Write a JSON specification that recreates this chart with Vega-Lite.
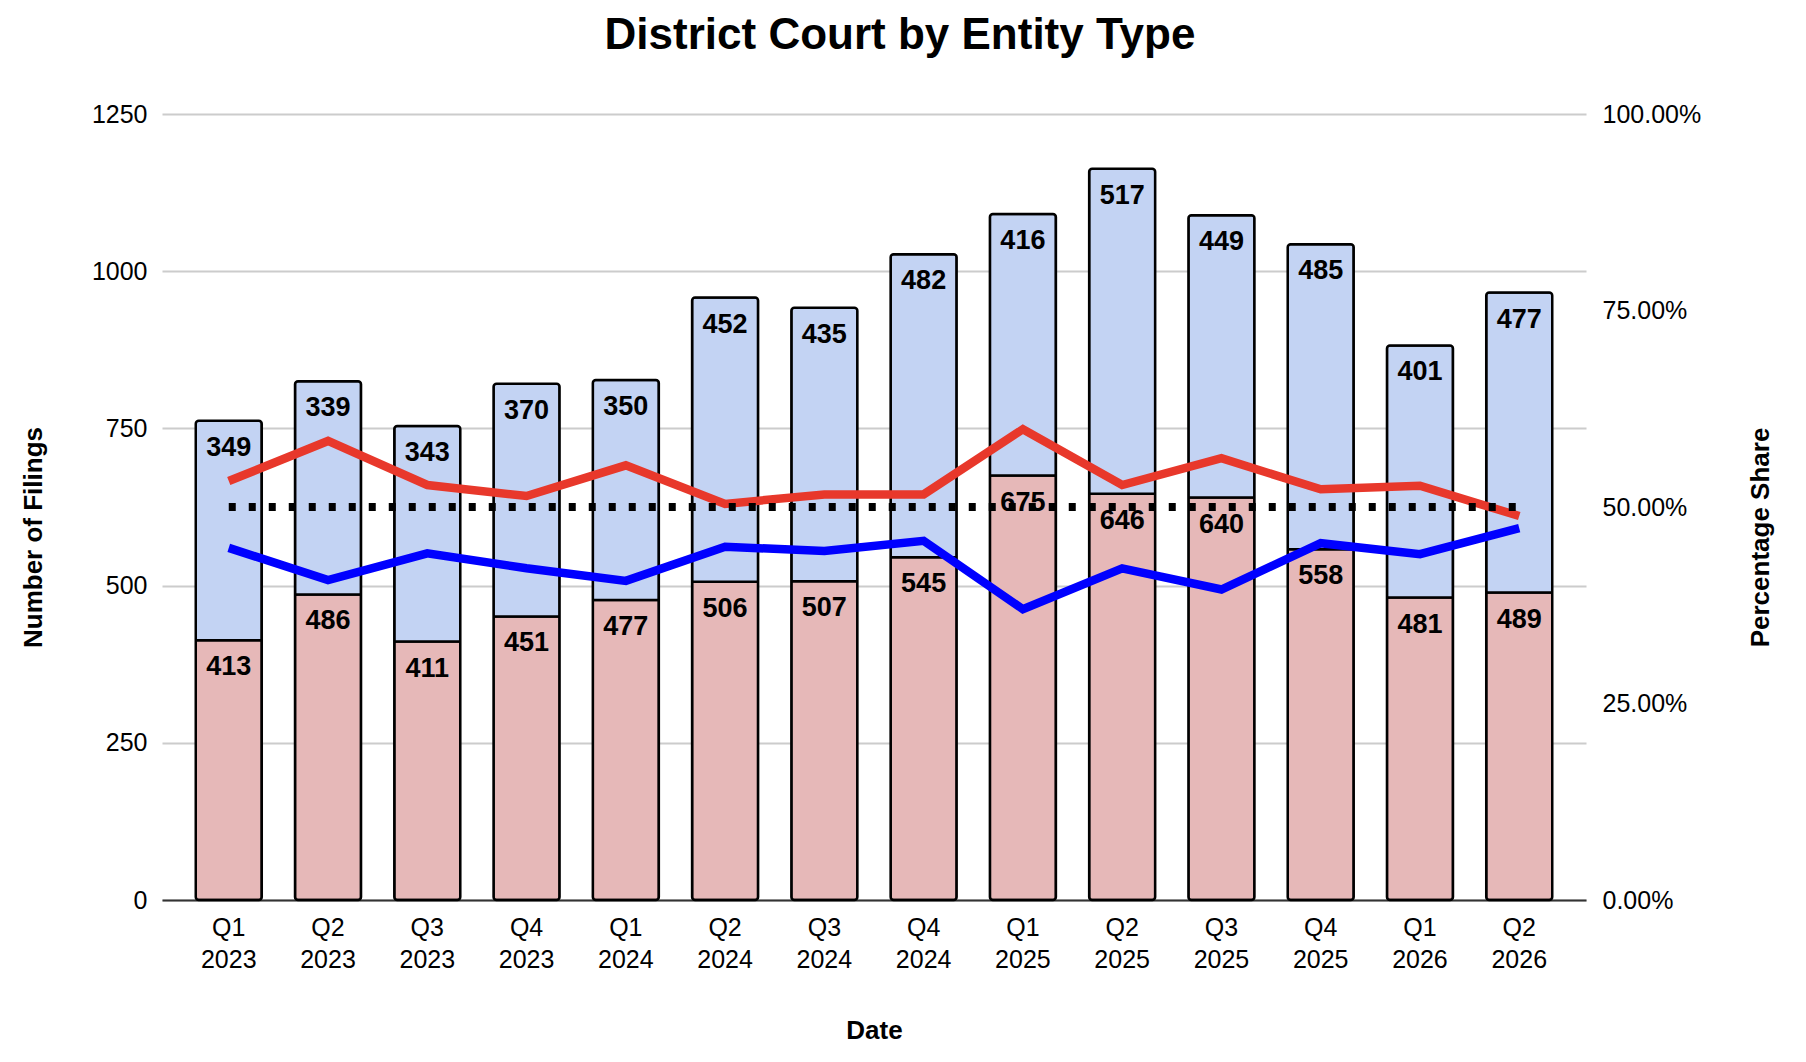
{
  "$schema": "https://vega.github.io/schema/vega-lite/v6.json",
  "width": 1424,
  "height": 786,
  "autosize": {"type": "none"},
  "padding": {"left": 162, "top": 114, "right": 220, "bottom": 162},
  "background": "white",
  "title": {"text": "District Court by Entity Type", "font": "Liberation Sans", "fontSize": 44, "fontWeight": "bold", "color": "#000", "anchor": "middle", "offset": 44, "dx": 26},
  "datasets": {
    "bars": [
      {"date": "Q1 2023", "type": "A", "count": 413}, {"date": "Q1 2023", "type": "B", "count": 349},
      {"date": "Q2 2023", "type": "A", "count": 486}, {"date": "Q2 2023", "type": "B", "count": 339},
      {"date": "Q3 2023", "type": "A", "count": 411}, {"date": "Q3 2023", "type": "B", "count": 343},
      {"date": "Q4 2023", "type": "A", "count": 451}, {"date": "Q4 2023", "type": "B", "count": 370},
      {"date": "Q1 2024", "type": "A", "count": 477}, {"date": "Q1 2024", "type": "B", "count": 350},
      {"date": "Q2 2024", "type": "A", "count": 506}, {"date": "Q2 2024", "type": "B", "count": 452},
      {"date": "Q3 2024", "type": "A", "count": 507}, {"date": "Q3 2024", "type": "B", "count": 435},
      {"date": "Q4 2024", "type": "A", "count": 545}, {"date": "Q4 2024", "type": "B", "count": 482},
      {"date": "Q1 2025", "type": "A", "count": 675}, {"date": "Q1 2025", "type": "B", "count": 416},
      {"date": "Q2 2025", "type": "A", "count": 646}, {"date": "Q2 2025", "type": "B", "count": 517},
      {"date": "Q3 2025", "type": "A", "count": 640}, {"date": "Q3 2025", "type": "B", "count": 449},
      {"date": "Q4 2025", "type": "A", "count": 558}, {"date": "Q4 2025", "type": "B", "count": 485},
      {"date": "Q1 2026", "type": "A", "count": 481}, {"date": "Q1 2026", "type": "B", "count": 401},
      {"date": "Q2 2026", "type": "A", "count": 489}, {"date": "Q2 2026", "type": "B", "count": 477}
    ],
    "shares": [
      {"date": "Q1 2023", "series": "A", "share": 0.533}, {"date": "Q1 2023", "series": "B", "share": 0.448}, {"date": "Q1 2023", "series": "Parity", "share": 0.5},
      {"date": "Q2 2023", "series": "A", "share": 0.584}, {"date": "Q2 2023", "series": "B", "share": 0.407}, {"date": "Q2 2023", "series": "Parity", "share": 0.5},
      {"date": "Q3 2023", "series": "A", "share": 0.528}, {"date": "Q3 2023", "series": "B", "share": 0.441}, {"date": "Q3 2023", "series": "Parity", "share": 0.5},
      {"date": "Q4 2023", "series": "A", "share": 0.514}, {"date": "Q4 2023", "series": "B", "share": 0.422}, {"date": "Q4 2023", "series": "Parity", "share": 0.5},
      {"date": "Q1 2024", "series": "A", "share": 0.553}, {"date": "Q1 2024", "series": "B", "share": 0.406}, {"date": "Q1 2024", "series": "Parity", "share": 0.5},
      {"date": "Q2 2024", "series": "A", "share": 0.504}, {"date": "Q2 2024", "series": "B", "share": 0.4495}, {"date": "Q2 2024", "series": "Parity", "share": 0.5},
      {"date": "Q3 2024", "series": "A", "share": 0.516}, {"date": "Q3 2024", "series": "B", "share": 0.444}, {"date": "Q3 2024", "series": "Parity", "share": 0.5},
      {"date": "Q4 2024", "series": "A", "share": 0.516}, {"date": "Q4 2024", "series": "B", "share": 0.457}, {"date": "Q4 2024", "series": "Parity", "share": 0.5},
      {"date": "Q1 2025", "series": "A", "share": 0.599}, {"date": "Q1 2025", "series": "B", "share": 0.370}, {"date": "Q1 2025", "series": "Parity", "share": 0.5},
      {"date": "Q2 2025", "series": "A", "share": 0.528}, {"date": "Q2 2025", "series": "B", "share": 0.422}, {"date": "Q2 2025", "series": "Parity", "share": 0.5},
      {"date": "Q3 2025", "series": "A", "share": 0.562}, {"date": "Q3 2025", "series": "B", "share": 0.395}, {"date": "Q3 2025", "series": "Parity", "share": 0.5},
      {"date": "Q4 2025", "series": "A", "share": 0.5225}, {"date": "Q4 2025", "series": "B", "share": 0.454}, {"date": "Q4 2025", "series": "Parity", "share": 0.5},
      {"date": "Q1 2026", "series": "A", "share": 0.527}, {"date": "Q1 2026", "series": "B", "share": 0.440}, {"date": "Q1 2026", "series": "Parity", "share": 0.5},
      {"date": "Q2 2026", "series": "A", "share": 0.4885}, {"date": "Q2 2026", "series": "B", "share": 0.473}, {"date": "Q2 2026", "series": "Parity", "share": 0.5}
    ]
  },
  "layer": [
    {
      "data": {"name": "bars"},
      "layer": [
        {
          "mark": {"type": "bar", "stroke": "#000", "strokeWidth": 2.5, "cornerRadius": 3},
          "encoding": {
            "x": {"field": "date", "type": "nominal", "sort": null,
              "scale": {"paddingInner": 0.335, "paddingOuter": 0.34},
              "axis": {"title": "Date", "labelAngle": 0, "labelExpr": "split(datum.label, ' ')", "labelBaseline": "top", "labelPadding": 15, "labelLineHeight": 32, "domain": true, "domainColor": "#333", "domainWidth": 2, "grid": false, "titleBaseline": "alphabetic", "titleY": 138}},
            "y": {"field": "count", "type": "quantitative", "stack": "zero",
              "scale": {"domain": [0, 1250], "nice": false},
              "axis": {"title": "Number of Filings", "format": "d", "values": [0, 250, 500, 750, 1000, 1250], "grid": true, "gridColor": "#cccccc", "gridWidth": 2, "labelPadding": 15, "titleAngle": -90, "titleX": -129, "titleY": 423, "titleBaseline": "middle", "titleAlign": "center"}},
            "color": {"field": "type", "type": "nominal", "scale": {"domain": ["A", "B"], "range": ["#e6b8b8", "#c3d3f3"]}, "legend": null},
            "order": {"field": "type", "sort": "ascending"}
          }
        },
        {
          "mark": {"type": "text", "font": "Liberation Sans", "fontSize": 27, "fontWeight": "bold", "color": "#000", "baseline": "middle", "dy": 27},
          "encoding": {
            "x": {"field": "date", "type": "nominal", "sort": null},
            "y": {"field": "count", "type": "quantitative", "stack": "zero"},
            "text": {"field": "count", "type": "quantitative"},
            "order": {"field": "type", "sort": "ascending"}
          }
        }
      ]
    },
    {
      "data": {"name": "shares"},
      "layer": [
        {
          "transform": [{"filter": "datum.series !== 'Parity'"}],
          "mark": {"type": "line", "strokeWidth": 8.5},
          "encoding": {
            "x": {"field": "date", "type": "nominal", "sort": null},
            "y": {"field": "share", "type": "quantitative",
              "scale": {"domain": [0, 1], "nice": false},
              "axis": {"orient": "right", "title": "Percentage Share", "format": ".2%", "values": [0, 0.25, 0.5, 0.75, 1], "grid": false, "labelPadding": 16, "titleAngle": -90, "titleX": 174, "titleY": 423, "titleBaseline": "middle", "titleAlign": "center"}},
            "color": {"field": "series", "type": "nominal", "scale": {"domain": ["A", "B"], "range": ["#e8382b", "#0000ff"]}, "legend": null}
          }
        },
        {
          "transform": [{"filter": "datum.series === 'Parity'"}],
          "mark": {"type": "line", "color": "#000", "strokeWidth": 8, "strokeDash": [7, 13], "strokeCap": "butt"},
          "encoding": {
            "x": {"field": "date", "type": "nominal", "sort": null},
            "y": {"field": "share", "type": "quantitative"}
          }
        }
      ]
    }
  ],
  "resolve": {"scale": {"y": "independent", "color": "independent"}},
  "config": {
    "view": {"stroke": null},
    "axis": {"labelFont": "Liberation Sans", "labelFontSize": 25, "labelColor": "#000", "titleFont": "Liberation Sans", "titleFontSize": 26, "titleFontWeight": "bold", "titleColor": "#000", "ticks": false, "domain": false}
  }
}
